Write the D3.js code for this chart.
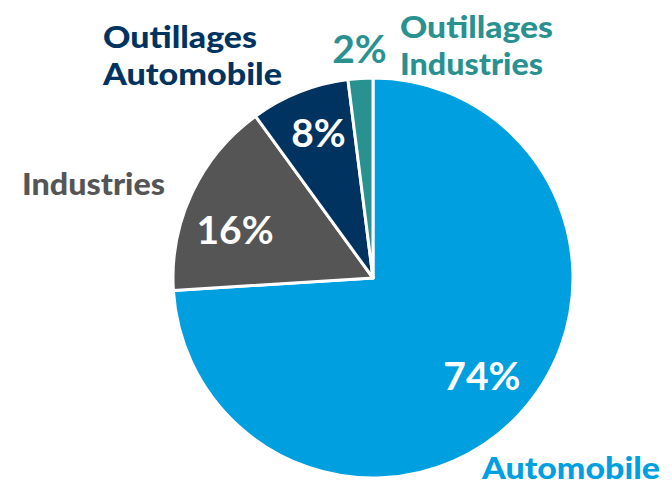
<html>
  <head>
    <meta charset="utf-8">
    <script src="https://d3js.org/d3.v7.min.js"></script>
    <style>
      body { margin: 0; background: white; }
      .cat { font-family: Lato, "DejaVu Sans", sans-serif; font-weight: 900; }
      .pct { font-family: Lato, "Open Sans", sans-serif; font-weight: 700; }
    </style>
  </head>
  <body>
    <svg width="672" height="486"></svg>
    <script>
      // data
      var categories = ['Automobile', 'Industries', 'Outillages Automobile', 'Outillages Industries'];
      var values = [74, 16, 8, 2];
      var colors = ['#009fdf', '#555555', '#00335f', '#2a9191'];

      var svg = d3.select('svg');
      var cx = 373, cy = 278, r = 200;

      var g = svg.append('g').attr('transform', 'translate(' + cx + ',' + cy + ')');

      var pie = d3.pie().sort(null).value(function(d){ return d; });
      var arcs = pie(values);
      var arc = d3.arc().innerRadius(0).outerRadius(r);
      var labelArc = d3.arc().innerRadius(148).outerRadius(148);
      var outerArc = d3.arc().innerRadius(232).outerRadius(232);

      g.selectAll('path')
        .data(arcs)
        .enter().append('path')
        .attr('d', arc)
        .attr('fill', function(d, i){ return colors[i]; })
        .attr('stroke', 'white')
        .attr('stroke-width', 3)
        .attr('stroke-linejoin', 'round');

      // small nudges so labels sit where the original put them
      var nudge = [[1, -3], [-4, 15], [0, -7], [1, 2]];

      // percent labels: inside for big slices, outside for the tiny one
      g.selectAll('text.pct')
        .data(arcs)
        .enter().append('text')
        .attr('class', 'pct')
        .attr('transform', function(d, i){
          var c = d.data < 5 ? outerArc.centroid(d) : labelArc.centroid(d);
          return 'translate(' + (c[0] + nudge[i][0]) + ',' + (c[1] + nudge[i][1]) + ')';
        })
        .attr('text-anchor', 'middle')
        .attr('dy', '0.36em')
        .attr('font-size', 39)
        .attr('fill', function(d, i){ return d.data < 5 ? colors[i] : 'white'; })
        .text(function(d){ return d.data + '%'; });

      // category labels
      var catLabels = [
        { lines: ['Automobile'], x: 482, y: 479, w: [178] },
        { lines: ['Industries'], x: 22, y: 195, w: [143] },
        { lines: ['Outillages', 'Automobile'], x: 103, y: 48, w: [154, 179] },
        { lines: ['Outillages', 'Industries'], x: 400, y: 38, w: [153, 143] }
      ];

      catLabels.forEach(function(l, i){
        var t = svg.append('text')
          .attr('class', 'cat')
          .attr('x', l.x)
          .attr('y', l.y)
          .attr('font-size', 30)
          .attr('fill', colors[i]);
        l.lines.forEach(function(line, j){
          t.append('tspan')
            .attr('x', l.x)
            .attr('dy', j === 0 ? 0 : 37)
            .attr('textLength', l.w[j])
            .attr('lengthAdjust', 'spacingAndGlyphs')
            .text(line);
        });
      });
    </script>
  </body>
</html>
